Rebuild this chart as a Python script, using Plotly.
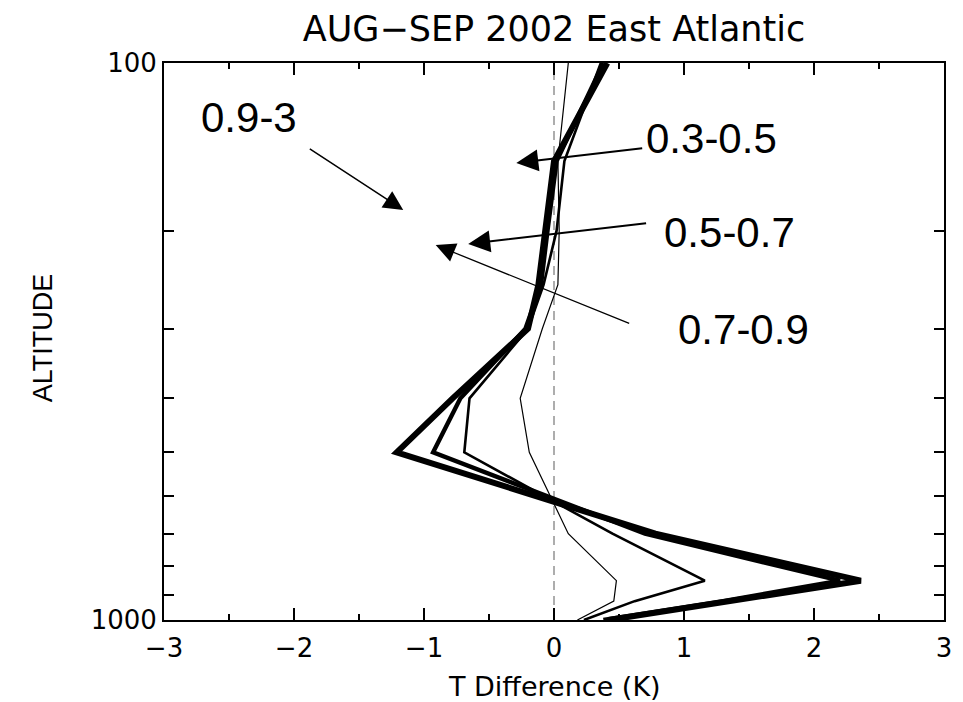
import math
import plotly.graph_objects as go

# Pressure levels (hPa)
levels = [1000, 925, 850, 700, 500, 400, 300, 250, 200, 150, 100]

# Temperature differences (K) for each class
t_03_05 = [0.18, 0.46, 0.48, 0.11, -0.19, -0.26, -0.09, 0.03, 0.04, 0.03, 0.11]
t_05_07 = [0.23, 0.62, 1.16, 0.45, -0.69, -0.65, -0.20, -0.08, 0.02, 0.08, 0.36]
t_07_09 = [0.38, 1.30, 2.20, 0.70, -0.93, -0.72, -0.22, -0.10, -0.05, 0.02, 0.38]
t_09_3 = [0.42, 1.38, 2.36, 0.78, -1.21, -0.78, -0.20, -0.12, -0.07, 0.00, 0.41]

series = [
    ("0.3-0.5", t_03_05, 1.2),
    ("0.5-0.7", t_05_07, 2.6),
    ("0.7-0.9", t_07_09, 4.4),
    ("0.9-3", t_09_3, 6.0),
]

# Label texts and positions (x in K, y in hPa)
label_texts = ["0.9-3", "0.3-0.5", "0.5-0.7", "0.7-0.9"]
label_x = [-2.35, 1.21, 1.35, 1.46]
label_p = [125.5, 136.4, 201.8, 301.3]
# Arrow heads / tails (x in K, y in hPa)
arrow_head_x = [-1.16, -0.29, -0.66, -0.91]
arrow_head_p = [183.6, 151.2, 211.3, 212.3]
arrow_tail_x = [-1.89, 0.69, 0.72, 0.59]
arrow_tail_p = [142.1, 142.1, 193.8, 294.2]
arrow_widths = [1.5, 2.0, 2.0, 1.3]
arrow_sizes = [2.6, 2.2, 2.2, 3.0]

fig = go.Figure()

# zero reference line
fig.add_trace(go.Scatter(x=[0, 0], y=[1000, 100], mode="lines",
                         line=dict(color="#777777", width=1.2, dash="9px,6px"),
                         showlegend=False, hoverinfo="skip"))

for name, vals, w in series:
    fig.add_trace(go.Scatter(x=vals, y=levels, mode="lines", name=name,
                             line=dict(color="black", width=w),
                             showlegend=False))

annotations = []
for t, x, p in zip(label_texts, label_x, label_p):
    annotations.append(dict(x=x, y=math.log10(p), xref="x", yref="y", text=t,
                            showarrow=False,
                            font=dict(family="Liberation Sans", size=42, color="black")))
for hx, hp, tx, tp, w, s in zip(arrow_head_x, arrow_head_p, arrow_tail_x, arrow_tail_p,
                                arrow_widths, arrow_sizes):
    annotations.append(dict(x=hx, y=math.log10(hp), xref="x", yref="y",
                            ax=tx, ay=math.log10(tp), axref="x", ayref="y",
                            text="", showarrow=True, arrowhead=2, arrowsize=s,
                            arrowwidth=w, arrowcolor="black"))

annotations.append(dict(x=-0.155, y=0.506, xref="paper", yref="paper", text="ALTITUDE",
                        textangle=-90, showarrow=False, xanchor="center", yanchor="middle",
                        font=dict(family="Liberation Sans", size=27, color="black")))
annotations.append(dict(x=0.5, y=-0.12, xref="paper", yref="paper", text="T Difference (K)",
                        showarrow=False, xanchor="center", yanchor="middle",
                        font=dict(family="DejaVu Sans", size=27, color="black")))

fig.update_layout(
    width=963, height=702,
    margin=dict(l=156, r=27, t=55, b=90),
    paper_bgcolor="white", plot_bgcolor="white",
    title=dict(text="AUG\u2212SEP 2002 East Atlantic", x=0.5, xref="paper",
               y=1 - 21 / 702, yref="container", yanchor="middle",
               font=dict(family="DejaVu Sans", size=35, color="black")),
    annotations=annotations,
    showlegend=False,
)

fig.update_xaxes(range=[-3, 3], tickmode="array", tickvals=[-3, -2, -1, 0, 1, 2, 3],
                 ticks="inside", ticklen=12, tickwidth=2, tickcolor="black",
                 showline=True, linewidth=2, linecolor="black", mirror="ticks",
                 showgrid=False, zeroline=False, ticklabelstandoff=4,
                 tickfont=dict(family="DejaVu Sans", size=26, color="black"),
                 minor=dict(tickmode="array", tickvals=[-2.5, -1.5, -0.5, 0.5, 1.5, 2.5],
                            ticks="inside", ticklen=6, tickwidth=2, tickcolor="black",
                            showgrid=False))

fig.update_yaxes(type="log", range=[3, 2], tickmode="array", tickvals=[100, 1000],
                 ticktext=["100", "1000"],
                 ticks="inside", ticklen=10, tickwidth=2, tickcolor="black",
                 showline=True, linewidth=2, linecolor="black", mirror="ticks",
                 showgrid=False, zeroline=False,
                 tickfont=dict(family="DejaVu Sans", size=26, color="black"),
                 minor=dict(tickmode="array", tickvals=[200, 300, 400, 500, 600, 700, 800, 900],
                            ticks="inside", ticklen=10, tickwidth=2, tickcolor="black",
                            showgrid=False))

fig.write_html("out.html")
